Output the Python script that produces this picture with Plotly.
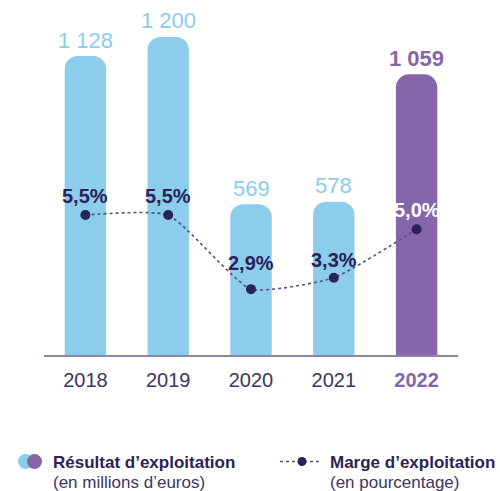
import plotly.graph_objects as go

years = ["2018", "2019", "2020", "2021", "2022"]
resultat = [1128, 1200, 569, 578, 1059]
resultat_labels = ["1 128", "1 200", "569", "578", "1 059"]
marge = [5.5, 5.5, 2.9, 3.3, 5.0]
marge_labels = ["5,5%", "5,5%", "2,9%", "3,3%", "5,0%"]

BLUE = "#8ccdec"
PURPLE = "#8566aa"
NAVY = "#2b2256"
AXIS_TXT = "#3a3762"
FONT = "Liberation Sans, Arial, sans-serif"

bar_colors = [BLUE] * 4 + [PURPLE]
pct_colors = [NAVY] * 4 + ["white"]
pct_shift = [19, 19, 26, 18, 19]

W, H = 500, 491
L, R_, T, B = 44, 42, 20, 136
pw, ph = W - L - R_, H - T - B


def px(x):
    return (x - L) / pw


def py(y):
    return (H - B - y) / ph


fig = go.Figure()
fig.add_trace(go.Bar(
    x=years, y=resultat, marker_color=bar_colors, marker_line_width=0,
    width=0.5, hoverinfo="skip", showlegend=False,
))
fig.add_trace(go.Scatter(
    x=years, y=marge, yaxis="y2", mode="lines+markers",
    line=dict(shape="spline", smoothing=0.5, dash="dot", color="#55507f", width=1.6),
    marker=dict(size=10, color=NAVY),
    cliponaxis=False, hoverinfo="skip", showlegend=False,
))

annotations = []
for i, (v, lab) in enumerate(zip(resultat, resultat_labels)):
    annotations.append(dict(
        x=i, y=v, xref="x", yref="y", yshift=16, yanchor="middle", showarrow=False,
        text=f"<b>{lab}</b>" if i == 4 else lab,
        font=dict(size=22, color=bar_colors[i], family=FONT)))
for i, (v, lab) in enumerate(zip(marge, marge_labels)):
    annotations.append(dict(
        x=i, y=v, xref="x", yref="y2", yshift=pct_shift[i], yanchor="middle", showarrow=False,
        text=f"<b>{lab}</b>", font=dict(size=20, color=pct_colors[i], family=FONT)))

tick_text = [y if y != "2022" else f"<b><span style='color:{PURPLE}'>{y}</span></b>" for y in years]

shapes = [
    dict(type="circle", xref="paper", yref="paper", x0=px(18), x1=px(33), y0=py(469), y1=py(454),
         fillcolor=BLUE, line_width=0, layer="above"),
    dict(type="circle", xref="paper", yref="paper", x0=px(27), x1=px(42), y0=py(469), y1=py(454),
         fillcolor=PURPLE, line_width=0, layer="above"),
    dict(type="line", xref="paper", yref="paper", x0=px(280), x1=px(321), y0=py(461.5), y1=py(461.5),
         line=dict(color="#55507f", width=1.6, dash="dot")),
    dict(type="circle", xref="paper", yref="paper", x0=px(297.5), x1=px(306.5), y0=py(466), y1=py(457),
         fillcolor=NAVY, line_width=0),
]

annotations += [
    dict(xref="paper", yref="paper", x=px(51), y=py(462), xanchor="left", yanchor="middle",
         text="<b>Résultat d’exploitation</b>", showarrow=False,
         font=dict(size=17, color=NAVY, family=FONT)),
    dict(xref="paper", yref="paper", x=px(51), y=py(482), xanchor="left", yanchor="middle",
         text="(en millions d’euros)", showarrow=False,
         font=dict(size=17, color=AXIS_TXT, family=FONT)),
    dict(xref="paper", yref="paper", x=px(328), y=py(462), xanchor="left", yanchor="middle",
         text="<b>Marge d’exploitation</b>", showarrow=False,
         font=dict(size=17, color=NAVY, family=FONT)),
    dict(xref="paper", yref="paper", x=px(328), y=py(482), xanchor="left", yanchor="middle",
         text="(en pourcentage)", showarrow=False,
         font=dict(size=17, color=AXIS_TXT, family=FONT)),
]

fig.update_layout(
    width=W, height=H, margin=dict(l=L, r=R_, t=T, b=B, pad=0),
    paper_bgcolor="white", plot_bgcolor="white",
    barcornerradius=13,
    font=dict(family=FONT),
    xaxis=dict(type="category", range=[-0.5, 4.5], tickmode="array", tickvals=years, ticktext=tick_text,
               showline=True, linecolor="#8a87a6", linewidth=1.5, showgrid=False,
               ticks="", ticklabelstandoff=6, tickfont=dict(size=20, color=AXIS_TXT, family=FONT),
               fixedrange=True),
    yaxis=dict(range=[0, 1264], visible=False, showgrid=False, zeroline=False, fixedrange=True),
    yaxis2=dict(range=[0.59, 12.34], overlaying="y", visible=False, showgrid=False, zeroline=False,
                fixedrange=True),
    shapes=shapes, annotations=annotations,
)

fig.write_html(
    "out.html",
    config={"displayModeBar": False},
    post_script="document.body.style.margin='0';document.body.style.overflow='hidden';",
)
